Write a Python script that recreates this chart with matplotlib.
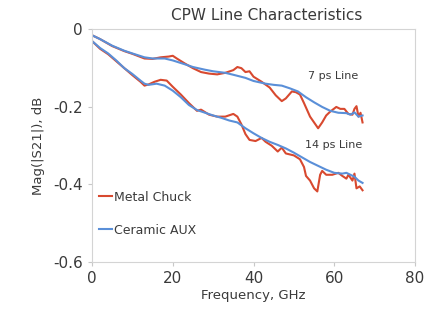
import matplotlib.pyplot as plt

# 7 ps line
f7_ceramic = [0, 2, 5, 8, 10, 13, 15, 18, 20, 23, 25, 28, 30, 33, 35, 38, 40, 43, 45, 47,
              49, 51, 53, 55, 57, 59, 61, 63, 64, 65, 66, 67]
s7_ceramic = [-0.015, -0.025, -0.042, -0.055, -0.062, -0.072, -0.075, -0.075, -0.080, -0.090,
              -0.097, -0.104, -0.108, -0.112, -0.117, -0.125, -0.133, -0.140, -0.143, -0.145,
              -0.152, -0.160, -0.175, -0.188, -0.200, -0.210, -0.215, -0.216, -0.220, -0.214,
              -0.225, -0.222]
f7_metal = [0, 2, 5, 8, 10, 13, 15, 17, 19, 20, 21, 23, 25, 27, 29, 31, 33, 35, 36, 37, 38,
            39, 40, 42, 44, 45.5, 47, 48, 49.5, 50.5, 51.5, 52.5, 54, 55, 56, 57, 58, 59,
            60.5, 61.5, 62.5, 63.5, 64.5, 65, 65.5, 66, 66.5, 67]
s7_metal = [-0.015, -0.025, -0.043, -0.056, -0.063, -0.075, -0.076, -0.072, -0.070, -0.068,
            -0.075, -0.088, -0.100, -0.110, -0.114, -0.116, -0.112, -0.105, -0.097, -0.100,
            -0.110, -0.108, -0.122, -0.135, -0.150, -0.170, -0.185, -0.178, -0.160, -0.162,
            -0.168, -0.190, -0.225, -0.240, -0.255, -0.240, -0.222, -0.212, -0.200, -0.205,
            -0.205, -0.218, -0.220, -0.205, -0.198, -0.225, -0.215, -0.240]

# 14 ps line
f14_ceramic = [0, 2, 4, 6, 8, 10, 12, 13, 14, 16, 18, 20, 22, 24, 26, 28, 30, 32, 34, 36,
               38, 40, 42, 44, 46, 48, 50, 52, 54, 56, 58, 60, 62, 63, 64, 65, 66, 67]
s14_ceramic = [-0.030, -0.048, -0.062, -0.080, -0.100, -0.115, -0.132, -0.140, -0.143,
               -0.140, -0.145, -0.158, -0.175, -0.195, -0.208, -0.215, -0.222, -0.228,
               -0.235, -0.240, -0.255, -0.268, -0.280, -0.290, -0.298, -0.307, -0.318,
               -0.330, -0.342, -0.352, -0.362, -0.370, -0.372, -0.370, -0.375, -0.380,
               -0.390, -0.396]
f14_metal = [0, 2, 4, 6, 8, 10, 12, 13, 14, 15.5, 17, 18.5, 20, 22, 24, 25, 26, 27, 29, 31,
             33, 35, 36, 37, 38, 39, 40.5, 42, 43, 44.5, 46, 47, 48, 50, 51.5, 52.5, 53, 54,
             55, 55.8, 56.5, 57, 58, 59.5, 61, 62, 63, 63.5, 64.5, 65, 65.5, 66.3, 67]
s14_metal = [-0.030, -0.050, -0.064, -0.082, -0.100, -0.118, -0.135, -0.145, -0.142, -0.135,
             -0.130, -0.132, -0.148, -0.168, -0.190, -0.200, -0.210, -0.207, -0.220, -0.225,
             -0.225, -0.218, -0.225, -0.245, -0.270, -0.285, -0.288, -0.280, -0.290, -0.300,
             -0.315, -0.305, -0.320, -0.325, -0.335, -0.355, -0.378, -0.390, -0.410, -0.418,
             -0.375, -0.365, -0.375, -0.375, -0.370, -0.378, -0.385, -0.375, -0.390, -0.372,
             -0.410, -0.405, -0.415]

red = "#d8492f"
blue = "#5a8fd8"
txt = "#3a3a3a"

fig = plt.figure(figsize=(4.33, 3.13), dpi=100)
ax = fig.add_axes([0.2125, 0.163, 0.746, 0.743])

ax.plot(f7_metal, s7_metal, color=red, lw=1.5, label="Metal Chuck")
ax.plot(f7_ceramic, s7_ceramic, color=blue, lw=1.5, label="Ceramic AUX")
ax.plot(f14_metal, s14_metal, color=red, lw=1.5)
ax.plot(f14_ceramic, s14_ceramic, color=blue, lw=1.5)

ax.set_xlim(0, 80)
ax.set_ylim(-0.6, 0)
ax.set_xticks([0, 20, 40, 60, 80])
ax.set_yticks([-0.6, -0.4, -0.2, 0])
ax.set_yticklabels(["-0.6", "-0.4", "-0.2", "0"])
ax.tick_params(labelsize=11, colors="#c8c8c8", labelcolor=txt, length=3, width=0.8)
for s in ax.spines.values():
    s.set_color("#d4d4d4")
    s.set_linewidth(0.8)

ax.set_xlabel("Frequency, GHz", fontsize=9.5, color=txt, labelpad=2)
ax.set_ylabel("Mag(|S21|), dB", fontsize=9.5, color=txt, labelpad=6)
fig.text(0.615, 0.95, "CPW Line Characteristics", fontsize=11, color=txt, ha="center", va="center")

ax.text(66, -0.12, "7 ps Line", fontsize=8, color=txt, ha="right", va="center")
ax.text(67, -0.297, "14 ps Line", fontsize=8, color=txt, ha="right", va="center")

ax.legend(loc="upper left", bbox_to_anchor=(-0.012, 0.355), frameon=False, fontsize=9,
          handlelength=1.0, handletextpad=0.15, labelspacing=1.6, labelcolor=txt)

fig.savefig("out.png", dpi=100)
